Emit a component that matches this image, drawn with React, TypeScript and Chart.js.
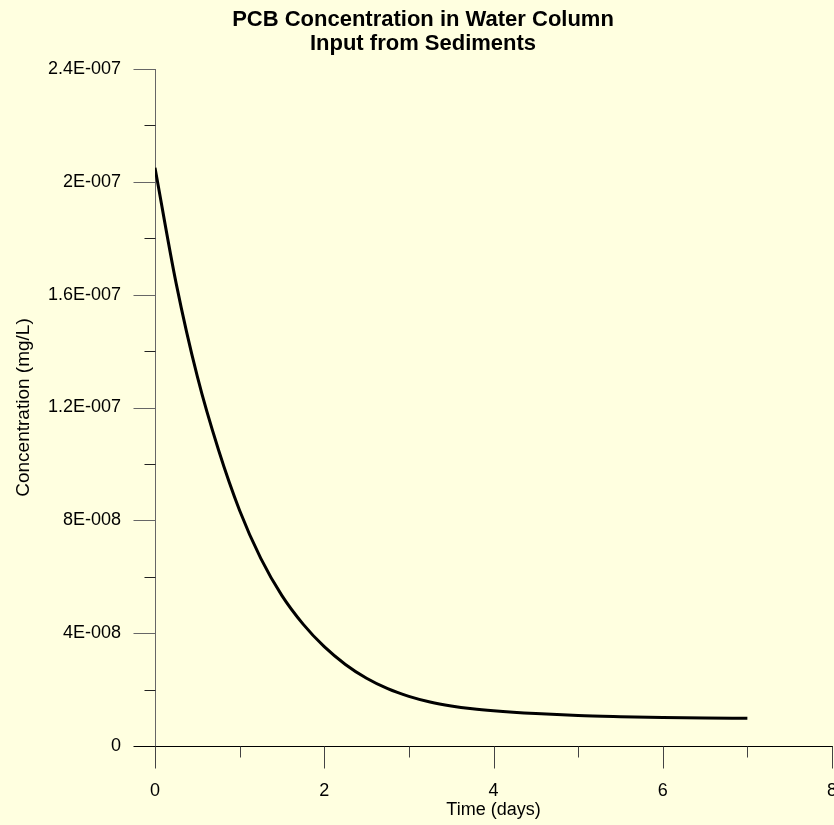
import React, { useEffect, useRef } from 'react';
import { Chart, registerables } from 'chart.js';

Chart.register(...registerables);

// Simulated water-column PCB concentration (mg/L) over time (days)
const days = [0, 0.25, 0.5, 0.75, 1, 1.25, 1.5, 1.75, 2, 2.25, 2.5, 2.75, 3, 3.25, 3.5, 3.75, 4, 4.5, 5, 5.5, 6, 6.5, 7];
const concentration = [
  2.05e-7, 1.64e-7, 1.31e-7, 1.05e-7, 8.35e-8, 6.65e-8, 5.33e-8, 4.32e-8, 3.52e-8, 2.89e-8, 2.4e-8, 2.03e-8,
  1.76e-8, 1.56e-8, 1.42e-8, 1.32e-8, 1.25e-8, 1.15e-8, 1.08e-8, 1.04e-8, 1.01e-8, 9.9e-9, 9.8e-9,
];

const xTickValues = [0, 2, 4, 6, 8];
const xMinorTickValues = [1, 3, 5, 7];
const yTickValues = [0, 4e-8, 8e-8, 1.2e-7, 1.6e-7, 2e-7, 2.4e-7];
const yTickLabels = ['0', '4E-008', '8E-008', '1.2E-007', '1.6E-007', '2E-007', '2.4E-007'];
const yMinorTickValues = [2e-8, 6e-8, 1e-7, 1.4e-7, 1.8e-7, 2.2e-7];

const titleLines = ['PCB Concentration in Water Column', 'Input from Sediments'];
const xAxisTitle = 'Time (days)';
const yAxisTitle = 'Concentration (mg/L)';

const BG = '#FFFFE0';
const FONT = "'Liberation Sans', Arial, sans-serif";

// Outside tick marks: long for labelled values, short for the in-between ones
const tickMarks = {
  id: 'tickMarks',
  afterDraw(chart: any) {
    const { ctx, chartArea } = chart;
    const xs = chart.scales.x;
    const ys = chart.scales.y;
    const axisX = Math.round(chartArea.left) + 0.5;
    const axisY = Math.round(chartArea.bottom) + 0.5;
    const line = (x1: number, y1: number, x2: number, y2: number, color: string) => {
      ctx.strokeStyle = color;
      ctx.beginPath();
      ctx.moveTo(x1, y1);
      ctx.lineTo(x2, y2);
      ctx.stroke();
    };
    ctx.save();
    ctx.lineWidth = 1;
    xTickValues.forEach((v) => {
      const px = Math.round(xs.getPixelForValue(v)) + 0.5;
      line(px, axisY, px, axisY + 22, '#444');
    });
    xMinorTickValues.forEach((v) => {
      const px = Math.round(xs.getPixelForValue(v)) + 0.5;
      line(px, axisY, px, axisY + 11, '#444');
    });
    yTickValues.forEach((v) => {
      const py = Math.round(ys.getPixelForValue(v)) + 0.5;
      line(axisX - 22, py, axisX, py, v === 0 ? '#000' : '#666');
    });
    yMinorTickValues.forEach((v) => {
      const py = Math.round(ys.getPixelForValue(v)) + 0.5;
      line(axisX - 11, py, axisX, py, '#222');
    });
    ctx.restore();
  },
};

// Invisible built-in ticks only reserve the gap between the axis line and its labels
const hiddenTickGrid = {
  display: true,
  drawOnChartArea: false,
  drawTicks: true,
  tickLength: 34,
  tickColor: 'rgba(0,0,0,0)',
};

export default function App() {
  const canvasRef = useRef<HTMLCanvasElement | null>(null);

  useEffect(() => {
    document.documentElement.style.background = BG;
    document.body.style.margin = '0';
    document.body.style.background = BG;

    const canvas = canvasRef.current;
    if (!canvas) return;
    Chart.defaults.color = '#000';

    const chart = new Chart(canvas, {
      type: 'scatter',
      data: {
        datasets: [
          {
            data: days.map((d, i) => ({ x: d, y: concentration[i] })),
            showLine: true,
            borderColor: '#000',
            backgroundColor: '#000',
            borderWidth: 3,
            pointRadius: 0,
            cubicInterpolationMode: 'monotone',
          },
        ],
      },
      options: {
        responsive: false,
        animation: false,
        layout: { padding: { left: 0, right: 8, top: 0, bottom: 0 } },
        plugins: {
          legend: { display: false },
          tooltip: { enabled: false },
          title: {
            display: true,
            text: titleLines,
            color: '#000',
            font: { family: FONT, size: 22, weight: 'bold', lineHeight: '24px' },
            padding: { top: 8, bottom: 13 },
          },
        },
        scales: {
          x: {
            type: 'linear',
            min: 0,
            max: 8,
            afterBuildTicks: (s: any) => {
              s.ticks = xTickValues.map((v) => ({ value: v }));
            },
            afterFit: (s: any) => {
              s.height = 79;
            },
            ticks: {
              color: '#000',
              font: { family: FONT, size: 18 },
              padding: 0,
              maxRotation: 0,
              autoSkip: false,
              callback: (v: any) => String(v),
            },
            grid: hiddenTickGrid,
            border: { display: true, color: '#000', width: 1 },
            title: {
              display: true,
              text: xAxisTitle,
              color: '#000',
              font: { family: FONT, size: 18 },
              padding: { top: 0, bottom: 4.5 },
            },
          },
          y: {
            type: 'linear',
            min: 0,
            max: 2.4e-7,
            afterBuildTicks: (s: any) => {
              s.ticks = yTickValues.map((v) => ({ value: v }));
            },
            afterFit: (s: any) => {
              s.width = 141;
            },
            ticks: {
              color: '#000',
              font: { family: FONT, size: 18 },
              padding: 0,
              autoSkip: false,
              callback: (_v: any, i: number) => yTickLabels[i],
            },
            grid: hiddenTickGrid,
            border: { display: true, color: '#666', width: 1 },
            title: {
              display: true,
              text: yAxisTitle,
              color: '#000',
              font: { family: FONT, size: 19, lineHeight: '20px' },
              padding: { top: 0, bottom: 0 },
            },
          },
        },
      },
      plugins: [tickMarks],
    } as any);

    return () => chart.destroy();
  }, []);

  return (
    <div style={{ position: 'relative', width: 834, height: 825, overflow: 'hidden', background: BG }}>
      <canvas ref={canvasRef} width={826} height={825} style={{ position: 'absolute', left: 14, top: 0 }} />
    </div>
  );
}
